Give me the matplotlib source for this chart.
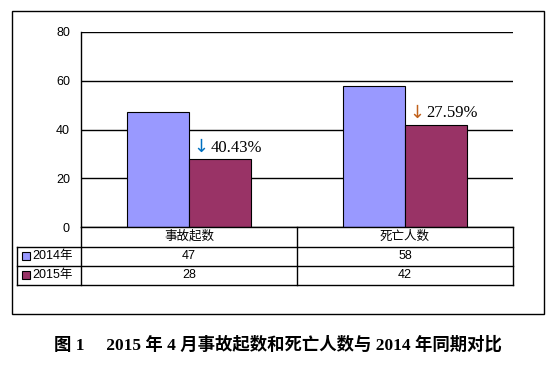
import matplotlib
matplotlib.use("Agg")
import matplotlib.pyplot as plt
from matplotlib.patches import Rectangle

plt.rcParams['font.family'] = ['Liberation Sans', 'Noto Sans CJK SC', 'DejaVu Sans']

categories = ['事故起数', '死亡人数']
years = ['2014年', '2015年']
v2014 = [47, 58]
v2015 = [28, 42]
colors = ['#9999FF', '#993366']
arrow_colors = ['#0070C0', '#C0601A']
yticks = [0, 20, 40, 60, 80]
caption = '图 1\u2003 2015 年 4 月事故起数和死亡人数与 2014 年同期对比'

W, H = 552, 366
fig = plt.figure(figsize=(W / 100, H / 100), dpi=100)

# plot area in pixel units (left, top, right, bottom)
L, T, R, B = 81, 32, 513, 227
ax = fig.add_axes([L / W, 1 - B / H, (R - L) / W, (B - T) / H])
x = range(len(categories))
bw = 0.287
ax.bar([i - bw / 2 for i in x], v2014, bw, color=colors[0], edgecolor='black', lw=0.8, zorder=3)
ax.bar([i + bw / 2 for i in x], v2015, bw, color=colors[1], edgecolor='black', lw=0.8, zorder=3)
ax.set_xlim(-0.5, 1.5)
ax.set_ylim(0, 80)
ax.set_yticks(yticks)
ax.set_xticks([])
ax.yaxis.grid(True, color='black', lw=1)
ax.set_axisbelow(True)
for s in ['top', 'right', 'bottom']:
    ax.spines[s].set_visible(False)
ax.spines['left'].set_linewidth(1)
ax.tick_params(axis='y', length=0, pad=8, labelsize=9)

# decrease labels
for i in x:
    pct = (v2014[i] - v2015[i]) / v2014[i] * 100
    ytxt = v2015[i] + 4.6
    ax.text(i + 0.018, ytxt + 0.3, '↓', color=arrow_colors[i], fontsize=13,
            family=['DejaVu Sans'], ha='left', va='center')
    ax.text(i + 0.1, ytxt, f'{pct:.2f}%', fontsize=12,
            family=['Liberation Serif'], ha='left', va='center')

# overlay for table, border and caption
ov = fig.add_axes([0, 0, 1, 1])
ov.set_xlim(0, W)
ov.set_ylim(H, 0)
ov.axis('off')
ov.patch.set_visible(False)

ov.add_patch(Rectangle((12, 10.5), 532, 303.5, fill=False, ec='black', lw=1))

mid = (L + R) / 2
rows = [227, 246.5, 265.5, 284.5]
lk = dict(color='black', lw=1)
ov.plot([L, R], [rows[0], rows[0]], **lk)
for y in rows[1:]:
    ov.plot([17, R], [y, y], **lk)
for xx in [L, mid, R]:
    ov.plot([xx, xx], [rows[0], rows[3]], **lk)
ov.plot([17, 17], [rows[1], rows[3]], **lk)

cx = [(L + mid) / 2, (mid + R) / 2]
for j, c in enumerate(categories):
    ov.text(cx[j], (rows[0] + rows[1]) / 2, c, ha='center', va='center', fontsize=9)
for r, (yr, vals) in enumerate(zip(years, [v2014, v2015])):
    yc = (rows[r + 1] + rows[r + 2]) / 2
    ov.add_patch(Rectangle((22, yc - 4), 8, 8, fc=colors[r], ec='black', lw=0.8))
    ov.text(32.5, yc, yr, ha='left', va='center', fontsize=9)
    for j in x:
        ov.text(cx[j], yc, str(vals[j]), ha='center', va='center', fontsize=9)

ov.text(W / 2 + 2, 345, caption, ha='center', va='center', fontsize=12.5, fontweight='bold',
        family=['Liberation Serif', 'Noto Sans CJK SC'])

fig.savefig('out.png', dpi=100)
